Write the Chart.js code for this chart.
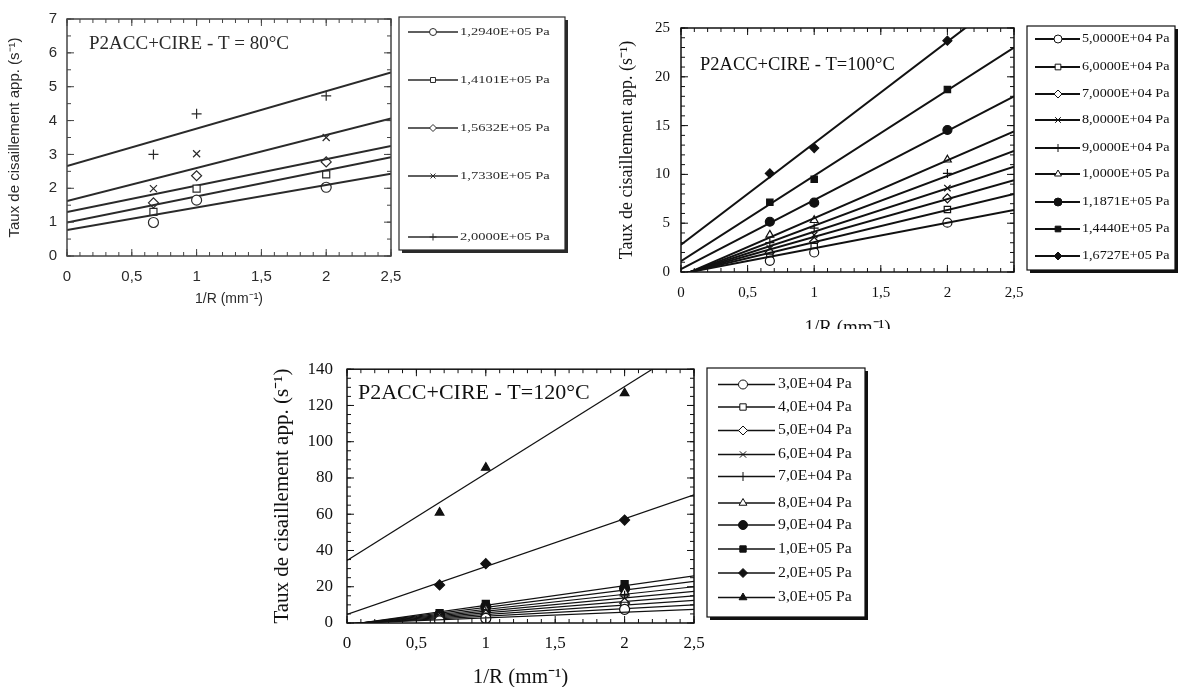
<!DOCTYPE html>
<html>
<head>
<meta charset="utf-8">
<script src="https://cdn.jsdelivr.net/npm/chart.js@4.4.1/dist/chart.umd.min.js"></script>
<style>
  html, body { margin: 0; padding: 0; background: #fff; width: 1179px; height: 687px; overflow: hidden; }
  .panel { position: absolute; overflow: hidden; }
  #p80  { left: 0;     top: 0;     width: 575px; height: 320px; filter: blur(0.5px); }
  #p100 { left: 600px; top: 0;     width: 579px; height: 329px; }
  #p120 { left: 250px; top: 345px; width: 620px; height: 342px; }
  canvas { display: block; }
</style>
</head>
<body>
<div class="panel" id="p80"><canvas id="c80" width="575" height="320"></canvas></div>
<div class="panel" id="p100"><canvas id="c100" width="579" height="340"></canvas></div>
<div class="panel" id="p120"><canvas id="c120" width="620" height="352"></canvas></div>

<script>
// 1/R of the three dies (R = 1.5, 1 and 0.5 mm)
const invRadius = [0.667, 1, 2];
// fitted lines are drawn across the whole x range
const fitX = [0, 2.5];

// ---- T = 80 °C ----
const pressures80 = ['1,2940E+05 Pa', '1,4101E+05 Pa', '1,5632E+05 Pa', '1,7330E+05 Pa', '2,0000E+05 Pa'];
const rates80 = [
  [0.99, 1.65, 2.03],
  [1.30, 1.99, 2.41],
  [1.57, 2.37, 2.78],
  [1.99, 3.02, 3.50],
  [3.00, 4.20, 4.73]
];
const fitStart80 = [0.77, 0.99, 1.30, 1.62, 2.66];
const fitEnd80   = [2.43, 2.92, 3.25, 4.06, 5.42];

// ---- T = 100 °C ----
const pressures100 = ['5,0000E+04 Pa', '6,0000E+04 Pa', '7,0000E+04 Pa', '8,0000E+04 Pa', '9,0000E+04 Pa',
                      '1,0000E+05 Pa', '1,1871E+05 Pa', '1,4440E+05 Pa', '1,6727E+05 Pa'];
const rates100 = [
  [1.15, 2.0, 5.05],
  [1.5, 2.6, 6.4],
  [2.0, 3.1, 7.55],
  [2.4, 3.8, 8.6],
  [3.0, 4.5, 10.1],
  [3.8, 5.3, 11.5],
  [5.15, 7.1, 14.55],
  [7.14, 9.5, 18.7],
  [10.1, 12.7, 23.7]
];
const fitStart100 = [-0.18, -0.23, -0.27, -0.31, -0.36, -0.41, 0.3, 1.1, 2.8];
const fitEnd100   = [6.35, 8.0, 9.4, 10.8, 12.4, 14.4, 18.0, 23.0, 28.8];

// ---- T = 120 °C ----
const pressures120 = ['3,0E+04 Pa', '4,0E+04 Pa', '5,0E+04 Pa', '6,0E+04 Pa', '7,0E+04 Pa',
                      '8,0E+04 Pa', '9,0E+04 Pa', '1,0E+05 Pa', '2,0E+05 Pa', '3,0E+05 Pa'];
const rates120 = [
  [1.2, 2.5, 7.5],
  [2.0, 3.5, 9.5],
  [2.5, 4.5, 11.0],
  [3.0, 5.5, 13.0],
  [3.5, 6.5, 15.0],
  [4.0, 7.5, 17.0],
  [4.5, 9.0, 19.0],
  [5.5, 10.5, 21.5],
  [21.0, 32.7, 56.8],
  [60.9, 85.7, 126.8]
];
const fitStart120 = [-0.31, -0.42, -0.52, -0.63, -0.73, -0.83, -0.96, -1.08, 4.7, 34.5];
const fitEnd120   = [7.5, 10.0, 12.5, 15.0, 17.5, 20.0, 23.0, 26.0, 70.7, 154.4];

// marker shapes, in legend order
const O = (shape) => ({ shape, filled: false });
const F = (shape) => ({ shape, filled: true });
const markers80  = [O('circle'), O('rect'), O('rectRot'), O('crossRot'), O('cross')];
const markers100 = [O('circle'), O('rect'), O('rectRot'), O('crossRot'), O('cross'), O('triangle'),
                    F('circle'), F('rect'), F('rectRot')];
const markers120 = [O('circle'), O('rect'), O('rectRot'), O('crossRot'), O('cross'), O('triangle'),
                    F('circle'), F('rect'), F('rectRot'), F('triangle')];

const INK = '#111';
const decimalComma = (v) => String(v).replace('.', ',');

function buildDatasets(labels, rates, fitStart, fitEnd, markers, look) {
  const sets = [];
  labels.forEach((label, i) => {
    sets.push({
      type: 'line',
      label: label + ' (fit)',
      data: [{ x: fitX[0], y: fitStart[i] }, { x: fitX[1], y: fitEnd[i] }],
      borderColor: look.ink,
      borderWidth: look.lineWidth,
      pointRadius: 0,
      fill: false,
      clip: 0
    });
    sets.push({
      type: 'scatter',
      label: label,
      data: invRadius.map((x, k) => ({ x, y: rates[i][k] })),
      pointStyle: markers[i].shape,
      backgroundColor: markers[i].filled ? look.ink : '#fff',
      borderColor: look.ink,
      pointRadius: look.radius,
      pointBorderWidth: look.markerWidth,
      clip: 0
    });
  });
  return sets;
}

// box around the plot with inward major/minor ticks on all four sides
const tickFrame = {
  id: 'tickFrame',
  afterDatasetsDraw(chart, args, opts) {
    const { ctx, chartArea: a, scales: { x, y } } = chart;
    ctx.save();
    ctx.strokeStyle = opts.color;
    ctx.lineWidth = opts.width;
    ctx.strokeRect(a.left, a.top, a.right - a.left, a.bottom - a.top);
    ctx.lineWidth = opts.tickWidth;
    ctx.beginPath();
    const mark = (scale, step, len) => {
      const n = Math.round((scale.max - scale.min) / step);
      for (let k = 0; k <= n; k++) {
        const p = scale.getPixelForValue(scale.min + k * step);
        if (scale.isHorizontal()) {
          ctx.moveTo(p, a.bottom); ctx.lineTo(p, a.bottom - len);
          ctx.moveTo(p, a.top);    ctx.lineTo(p, a.top + len);
        } else {
          ctx.moveTo(a.left, p);  ctx.lineTo(a.left + len, p);
          ctx.moveTo(a.right, p); ctx.lineTo(a.right - len, p);
        }
      }
    };
    mark(x, opts.minorX, opts.minorLen);
    mark(x, x.options.ticks.stepSize, opts.majorLen);
    mark(y, opts.minorY, opts.minorLen);
    mark(y, y.options.ticks.stepSize, opts.majorLen);
    ctx.stroke();
    ctx.restore();
  }
};

// framed legend with a drop-shadow edge, one row per measured series
const boxedLegend = {
  id: 'boxedLegend',
  afterDraw(chart, args, opts) {
    const ctx = chart.ctx;
    const [bx, by, bw, bh] = opts.box;
    ctx.save();
    ctx.strokeStyle = opts.color;
    ctx.lineWidth = 1.2;
    ctx.strokeRect(bx, by, bw, bh);
    ctx.lineWidth = 3;
    ctx.beginPath();
    ctx.moveTo(bx + bw + 1.5, by + 3);
    ctx.lineTo(bx + bw + 1.5, by + bh + 1.5);
    ctx.lineTo(bx + 3, by + bh + 1.5);
    ctx.stroke();

    const series = chart.data.datasets.filter(d => d.type === 'scatter');
    series.forEach((ds, i) => {
      const yy = opts.rows[i];
      ctx.strokeStyle = opts.color;
      ctx.lineWidth = opts.lineWidth;
      ctx.beginPath();
      ctx.moveTo(opts.lineX[0], yy);
      ctx.lineTo(opts.lineX[1], yy);
      ctx.stroke();
      ctx.fillStyle = ds.backgroundColor;
      ctx.lineWidth = 1;
      Chart.helpers.drawPoint(ctx, { pointStyle: ds.pointStyle, radius: opts.radius, rotation: 0, borderWidth: 1 }, opts.markerX, yy);
      // the printed legend text is slightly wider than the font, so stretch it
      ctx.save();
      ctx.translate(opts.textX, yy);
      ctx.scale(opts.stretch || 1, 1);
      ctx.fillStyle = opts.color;
      ctx.font = opts.font;
      ctx.textAlign = 'left';
      ctx.textBaseline = 'middle';
      ctx.fillText(ds.label, 0, 0);
      ctx.restore();
    });
    ctx.restore();
  }
};

// sample name written inside the plot area
const plotLabel = {
  id: 'plotLabel',
  afterDraw(chart, args, opts) {
    const ctx = chart.ctx;
    ctx.save();
    ctx.fillStyle = opts.color;
    ctx.font = opts.font;
    ctx.textAlign = 'left';
    ctx.textBaseline = 'middle';
    ctx.fillText(opts.text, opts.x, opts.y);
    ctx.restore();
  }
};

function makeChart(id, c) {
  return new Chart(document.getElementById(id), {
    type: 'scatter',
    data: { datasets: c.datasets },
    options: {
      responsive: false,
      animation: false,
      events: [],
      layout: { padding: c.padding },
      plugins: {
        legend: { display: false },
        tooltip: { enabled: false },
        tickFrame: c.frame,
        boxedLegend: c.legend,
        plotLabel: c.label
      },
      scales: {
        x: {
          type: 'linear', min: 0, max: 2.5,
          grid: { display: false, drawTicks: false },
          border: { display: false },
          ticks: { stepSize: 0.5, callback: decimalComma, font: c.tickFont, color: c.ink, padding: c.xTickPad },
          title: { display: true, text: '1/R (mm\u207B\u00B9)', font: c.xTitleFont, color: c.ink,
                   padding: { top: 0, bottom: c.xTitlePad } },
          afterFit: (s) => { s.height = c.xAxisHeight; }
        },
        y: {
          type: 'linear', min: 0, max: c.yMax,
          grid: { display: false, drawTicks: false },
          border: { display: false },
          ticks: { stepSize: c.yStep, callback: decimalComma, font: c.tickFont, color: c.ink, padding: c.yTickPad },
          title: { display: true, text: 'Taux de cisaillement app. (s\u207B\u00B9)', font: c.yTitleFont, color: c.ink,
                   padding: { top: c.yTitlePad, bottom: 0 } },
          afterFit: (s) => { s.width = c.yAxisWidth; }
        }
      }
    },
    plugins: [tickFrame, boxedLegend, plotLabel]
  });
}

const SANS = "'Liberation Sans', Arial, sans-serif";
const SERIF = "'Liberation Serif', 'Times New Roman', serif";

// T = 80 °C
makeChart('c80', {
  ink: '#2a2a2a',
  datasets: buildDatasets(pressures80, rates80, fitStart80, fitEnd80, markers80,
                          { ink: '#2a2a2a', lineWidth: 2, radius: 5, markerWidth: 1.2 }),
  padding: { top: 15, right: 184, left: 0, bottom: 0 },
  yMax: 7, yStep: 1,
  tickFont: { family: SANS, size: 15 },
  xTitleFont: { family: SANS, size: 14 },
  yTitleFont: { family: SANS, size: 15 },
  xTickPad: 12, yTickPad: 10, xTitlePad: 12, yTitlePad: 6,
  xAxisHeight: 64, yAxisWidth: 67,
  frame: { color: '#444', width: 1.5, tickWidth: 1, minorX: 0.1, minorY: 0.5, majorLen: 7, minorLen: 4 },
  legend: { color: '#2a2a2a', box: [399, 17, 166, 233], rows: [32, 80, 128, 176, 237],
            lineX: [408, 458], markerX: 433, textX: 460, radius: 3.5, lineWidth: 1.3,
            font: "11px " + SERIF, stretch: 1.32 },
  label: { color: '#2a2a2a', text: 'P2ACC+CIRE - T = 80°C', x: 89, y: 44, font: "19px " + SERIF }
});

// T = 100 °C
makeChart('c100', {
  ink: INK,
  datasets: buildDatasets(pressures100, rates100, fitStart100, fitEnd100, markers100,
                          { ink: INK, lineWidth: 2, radius: 4.5, markerWidth: 1.2 }),
  padding: { top: 28, right: 165, left: 0, bottom: 0 },
  yMax: 25, yStep: 5,
  tickFont: { family: SERIF, size: 15 },
  xTitleFont: { family: SERIF, size: 19 },
  yTitleFont: { family: SERIF, size: 18 },
  xTickPad: 12, yTickPad: 11, xTitlePad: 1, yTitlePad: 16,
  xAxisHeight: 68, yAxisWidth: 81,
  frame: { color: INK, width: 1.5, tickWidth: 1, minorX: 0.1, minorY: 1, majorLen: 7, minorLen: 4 },
  legend: { color: INK, box: [427, 26, 148, 244], rows: [39, 67, 94, 120, 148, 174, 202, 229, 256],
            lineX: [435, 480], markerX: 458, textX: 482, radius: 4, lineWidth: 1.8,
            font: "12px " + SERIF, stretch: 1.18 },
  label: { color: INK, text: 'P2ACC+CIRE - T=100°C', x: 100, y: 65, font: "18.5px " + SERIF }
});

// T = 120 °C
makeChart('c120', {
  ink: INK,
  datasets: buildDatasets(pressures120, rates120, fitStart120, fitEnd120, markers120,
                          { ink: INK, lineWidth: 1.2, radius: 5, markerWidth: 1.2 }),
  padding: { top: 20, right: 176, left: 0, bottom: 0 },
  yMax: 140, yStep: 20,
  tickFont: { family: SERIF, size: 17 },
  xTitleFont: { family: SERIF, size: 21 },
  yTitleFont: { family: SERIF, size: 21 },
  xTickPad: 10, yTickPad: 14, xTitlePad: 7, yTitlePad: 20,
  xAxisHeight: 74, yAxisWidth: 97,
  frame: { color: INK, width: 1.5, tickWidth: 1, minorX: 0.1, minorY: 5, majorLen: 7, minorLen: 4 },
  legend: { color: INK, box: [457, 23, 158, 249],
            rows: [39.5, 62, 85.5, 109.5, 131.5, 158, 180, 204, 228, 252.5],
            lineX: [468, 525], markerX: 493, textX: 528, radius: 4.5, lineWidth: 1.3,
            font: "15px " + SERIF, stretch: 1.05 },
  label: { color: INK, text: 'P2ACC+CIRE - T=120°C', x: 108, y: 48, font: "22px " + SERIF }
});
</script>
</body>
</html>
